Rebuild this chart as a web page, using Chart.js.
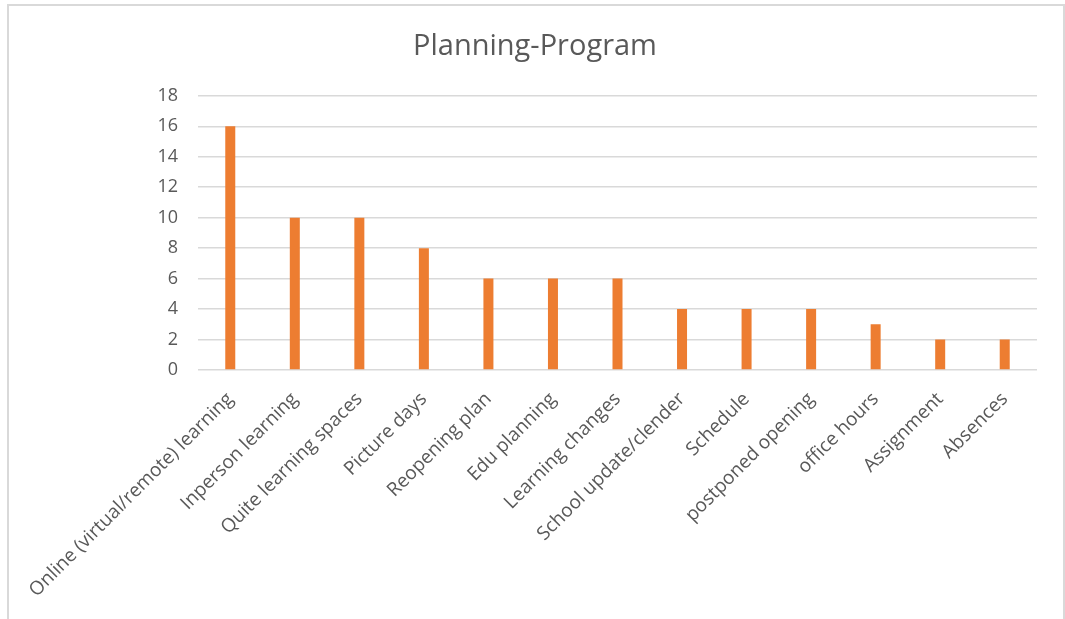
<!DOCTYPE html>
<html>
<head>
<meta charset="utf-8">
<script src="https://cdn.jsdelivr.net/npm/chart.js@4"></script>
<style>
  html, body { margin: 0; padding: 0; background: #fff; overflow: hidden; }
  .frame { position: absolute; left: 7px; top: 4px; width: 1058px; height: 700px;
    box-sizing: border-box; border: 2px solid #d9d9d9; }
  #wrap { position: absolute; left: 0; top: 0; width: 1065px; height: 619px; }
</style>
</head>
<body>
<div class="frame"></div>
<div id="wrap"><canvas id="chart"></canvas></div>
<script>
var orange = '#ED7D31';
var textGrey = '#595959';
var gridGrey = '#d9d9d9';

var topics = [
  'Online (virtual/remote) learning', 'Inperson learning', 'Quite learning spaces',
  'Picture days', 'Reopening plan', 'Edu planning', 'Learning changes',
  'School update/clender', 'Schedule', 'postponed opening', 'office hours',
  'Assignment', 'Absences'
];
var counts = [16, 10, 10, 8, 6, 6, 6, 4, 4, 4, 3, 2, 2];
var yTicks = [0, 2, 4, 6, 8, 10, 12, 14, 16, 18];

new Chart(document.getElementById('chart').getContext('2d'), {
  type: 'bar',
  data: {
    labels: topics,
    datasets: [{ label: 'Planning-Program', data: counts, backgroundColor: orange,
      barPercentage: 0.155, categoryPercentage: 1 }]
  },
  options: {
    responsive: true, maintainAspectRatio: false, animation: false,
    layout: { padding: { left: 5, right: 0, top: 0, bottom: 0 } },
    plugins: {
      legend: { display: false },
      tooltip: { enabled: false },
      title: {
        display: true, text: 'Planning-Program', color: textGrey,
        font: { family: 'Open Sans', size: 29, weight: 'normal' },
        padding: { top: 29, bottom: 32 }
      }
    },
    scales: {
      x: {
        grid: { display: false }, border: { display: false },
        ticks: { color: textGrey, font: { family: 'Open Sans', size: 19 },
          autoSkip: false, minRotation: 45, maxRotation: 45, padding: 10 },
        afterFit: function(s) { s.height = 249; }
      },
      y: {
        min: 0, max: 18,
        border: { display: false },
        grid: { color: gridGrey, lineWidth: 1.5, drawTicks: false },
        afterBuildTicks: function(s) { s.ticks = yTicks.map(function(v) { return { value: v }; }); },
        ticks: { color: textGrey, font: { family: 'Open Sans', size: 18 }, padding: 20 },
        afterFit: function(s) { s.width = 193; }
      },
      // empty right-hand margin so the plot stops short of the frame
      yRight: {
        position: 'right', min: 0, max: 18,
        border: { display: false }, grid: { display: false }, ticks: { display: false },
        afterFit: function(s) { s.width = 28; }
      }
    }
  }
});
</script>
</body>
</html>
